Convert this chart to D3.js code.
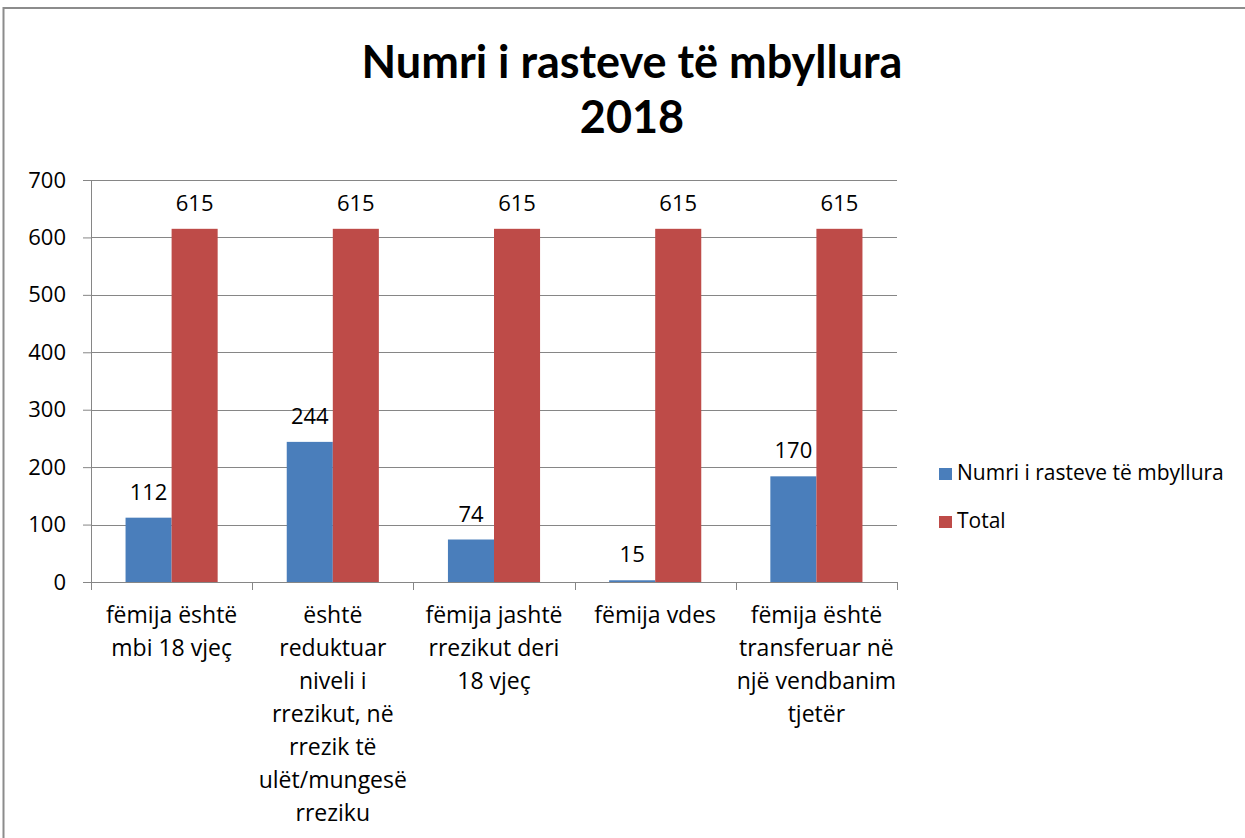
<!DOCTYPE html>
<html>
<head>
<meta charset="utf-8">
<script src="https://cdn.jsdelivr.net/npm/d3@7"></script>
<style>
  html, body { margin: 0; padding: 0; background: #fff; }
  svg { display: block; }
</style>
</head>
<body>
<div id="viz"></div>
<script>
// chart values
const categories = [
  ['fëmija është', 'mbi 18 vjeç'],
  ['është', 'reduktuar', 'niveli i', 'rrezikut, në', 'rrezik të', 'ulët/mungesë', 'rreziku'],
  ['fëmija jashtë', 'rrezikut deri', '18 vjeç'],
  ['fëmija vdes'],
  ['fëmija është', 'transferuar në', 'një vendbanim', 'tjetër']
];
const seriesNames = ['Numri i rasteve të mbyllura', 'Total'];
// bar heights as drawn, and the labels printed on them
const closedValues = [112, 244, 74, 3, 184];
const closedLabels = ['112', '244', '74', '15', '170'];
const totalValues = [615, 615, 615, 615, 615];
const totalLabels = ['615', '615', '615', '615', '615'];
const yTicks = [0, 100, 200, 300, 400, 500, 600, 700];
const colors = ['#4a7ebb', '#be4b48'];

const width = 1245, height = 838;
const plot = { left: 91, right: 897, top: 180, bottom: 582 };
const bodyFont = '"Open Sans", sans-serif';

const svg = d3.select('#viz').append('svg')
  .attr('width', width)
  .attr('height', height);

// outer frame (only top and left visible)
svg.append('path')
  .attr('d', `M3.5,${height} L3.5,8 L${width},8`)
  .attr('fill', 'none')
  .attr('stroke', '#8c8c8c')
  .attr('stroke-width', 2);

// title
const title = svg.append('text')
  .attr('text-anchor', 'middle')
  .attr('font-family', 'Lato, "Open Sans", sans-serif')
  .attr('font-weight', 'bold')
  .attr('font-size', 45)
  .attr('fill', '#000');
title.append('tspan').attr('x', 632).attr('y', 78).text('Numri i rasteve të mbyllura');
title.append('tspan').attr('x', 632).attr('y', 133).text('2018');

const y = d3.scaleLinear().domain([0, 700]).range([plot.bottom, plot.top]);
const x0 = d3.scaleBand().domain(d3.range(categories.length)).range([plot.left, plot.right]).padding(0);
const x1 = d3.scaleBand().domain(seriesNames).range([0, x0.bandwidth()]).paddingInner(0).paddingOuter(0.75);

// y axis ticks and labels
const yAxis = svg.append('g')
  .attr('transform', `translate(${plot.left},0)`)
  .call(d3.axisLeft(y).tickValues(yTicks).tickSize(8).tickPadding(17)
    .tickFormat(d3.format('d')));
yAxis.select('.domain').remove();
yAxis.selectAll('.tick line').attr('stroke', '#868686');
yAxis.selectAll('.tick text')
  .attr('font-family', bodyFont)
  .attr('font-size', 22)
  .attr('fill', '#000');

// gridlines
svg.append('g').selectAll('line')
  .data(yTicks.filter(d => d > 0))
  .join('line')
  .attr('x1', plot.left).attr('x2', plot.right)
  .attr('y1', d => Math.round(y(d)) + 0.5).attr('y2', d => Math.round(y(d)) + 0.5)
  .attr('stroke', '#868686');

svg.append('line')
  .attr('x1', plot.left + 0.5).attr('x2', plot.left + 0.5)
  .attr('y1', plot.top).attr('y2', plot.bottom)
  .attr('stroke', '#868686');

// bars
const series = [
  { name: seriesNames[0], values: closedValues, labels: closedLabels, color: colors[0] },
  { name: seriesNames[1], values: totalValues, labels: totalLabels, color: colors[1] }
];

const bars = svg.append('g');
series.forEach(s => {
  bars.selectAll(null)
    .data(s.values)
    .join('rect')
    .attr('x', (d, i) => x0(i) + x1(s.name))
    .attr('y', d => y(d))
    .attr('width', x1.bandwidth())
    .attr('height', d => y(0) - y(d))
    .attr('fill', s.color);

  bars.selectAll(null)
    .data(s.values)
    .join('text')
    .attr('x', (d, i) => x0(i) + x1(s.name) + x1.bandwidth() / 2)
    .attr('y', d => y(d) - 18)
    .attr('text-anchor', 'middle')
    .attr('font-family', bodyFont)
    .attr('font-size', 22)
    .attr('fill', '#000')
    .text((d, i) => s.labels[i]);
});

// x axis
const xAxis = svg.append('g')
  .attr('transform', `translate(0,${plot.bottom})`);
xAxis.append('line')
  .attr('x1', plot.left).attr('x2', plot.right)
  .attr('y1', 0.5).attr('y2', 0.5)
  .attr('stroke', '#868686');
xAxis.selectAll('.tk')
  .data(d3.range(categories.length + 1))
  .join('line')
  .attr('class', 'tk')
  .attr('x1', i => Math.round(plot.left + i * x0.step()) + 0.5)
  .attr('x2', i => Math.round(plot.left + i * x0.step()) + 0.5)
  .attr('y1', 0).attr('y2', 8)
  .attr('stroke', '#868686');

xAxis.selectAll('.cat')
  .data(categories)
  .join('text')
  .attr('class', 'cat')
  .attr('text-anchor', 'middle')
  .attr('font-family', bodyFont)
  .attr('font-size', 23)
  .attr('fill', '#000')
  .each(function (lines, i) {
    const t = d3.select(this);
    lines.forEach((ln, k) => {
      t.append('tspan')
        .attr('x', x0(i) + x0.bandwidth() / 2)
        .attr('y', 41 + k * 33)
        .text(ln);
    });
  });

// legend
const legend = svg.append('g').attr('transform', 'translate(939,468)');
seriesNames.forEach((name, i) => {
  const row = legend.append('g').attr('transform', `translate(0,${i * 48})`);
  row.append('rect')
    .attr('width', 13).attr('height', 12)
    .attr('fill', colors[i]);
  row.append('text')
    .attr('x', 18).attr('y', 12)
    .attr('font-family', bodyFont)
    .attr('font-size', 21)
    .attr('fill', '#000')
    .text(name);
});
</script>
</body>
</html>
